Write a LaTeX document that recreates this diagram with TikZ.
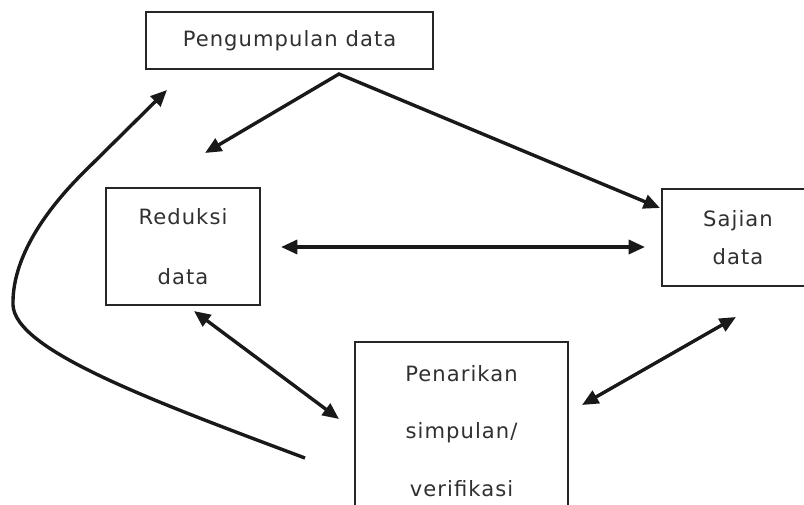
\documentclass[tikz,border=0pt]{standalone}
\usepackage{fontspec}
\setmainfont{DejaVu Sans}[LetterSpace=5]
\usetikzlibrary{arrows.meta}
\definecolor{txt}{HTML}{303030}
\tikzset{
  box/.style={draw=black!85, line width=1.1pt, fill=white, inner sep=0pt, text=txt, align=center},
  arr/.style={line width=2.9pt, draw=black!90, -{Triangle[length=14pt,width=12pt]}},
  dbl/.style={line width=2.9pt, draw=black!90, {Triangle[length=14pt,width=12pt]}-{Triangle[length=14pt,width=12pt]}},
  lbl/.style={font=\fontsize{18}{22}\selectfont}
}
\begin{document}
\begin{tikzpicture}[x=0.03cm, y=-0.03cm]
\useasboundingbox (0,0) rectangle (804,505);
\clip (0,0) rectangle (804,505);
\fill[white] (0,0) rectangle (804,505);

\node[box, line width=1.4pt, minimum width=8.61cm, minimum height=1.71cm, lbl] (pd) at (289.5,40.5) {Pengumpulan data};
\node[box, minimum width=4.62cm, minimum height=3.51cm, font=\fontsize{18}{51}\selectfont] (rd) at (183,246.5) {Reduksi\\data};
\node[box, minimum width=4.56cm, minimum height=2.91cm, font=\fontsize{18}{32}\selectfont] (sd) at (738,237.5) {Sajian\\data};
\node[box, minimum width=6.39cm, minimum height=5.34cm, font=\fontsize{18}{49}\selectfont] (pk) at (461.5,431) {Penarikan\\simpulan/\\verifikasi};

\coordinate (apex) at (339,74);
\coordinate (toRd) at (205,153);
\coordinate (toSd) at (660,208);
\coordinate (hL) at (281,247);
\coordinate (hR) at (645,247);
\coordinate (d1a) at (194,311);
\coordinate (d1b) at (339,419);
\coordinate (d2a) at (736,317);
\coordinate (d2b) at (582,405);
\coordinate (cs) at (305,458);
\coordinate (ce) at (167,90);

\draw[dbl, line join=miter] (toRd) -- (apex) -- (toSd);
\draw[dbl] (hL) -- (hR);
\draw[dbl] (d1a) -- (d1b);
\draw[dbl] (d2a) -- (d2b);
\draw[arr] (cs) .. controls (150,400) and (15,350) .. (13,305) .. controls (12,262) and (40,216) .. (83,173) -- (ce);
\end{tikzpicture}
\end{document}
